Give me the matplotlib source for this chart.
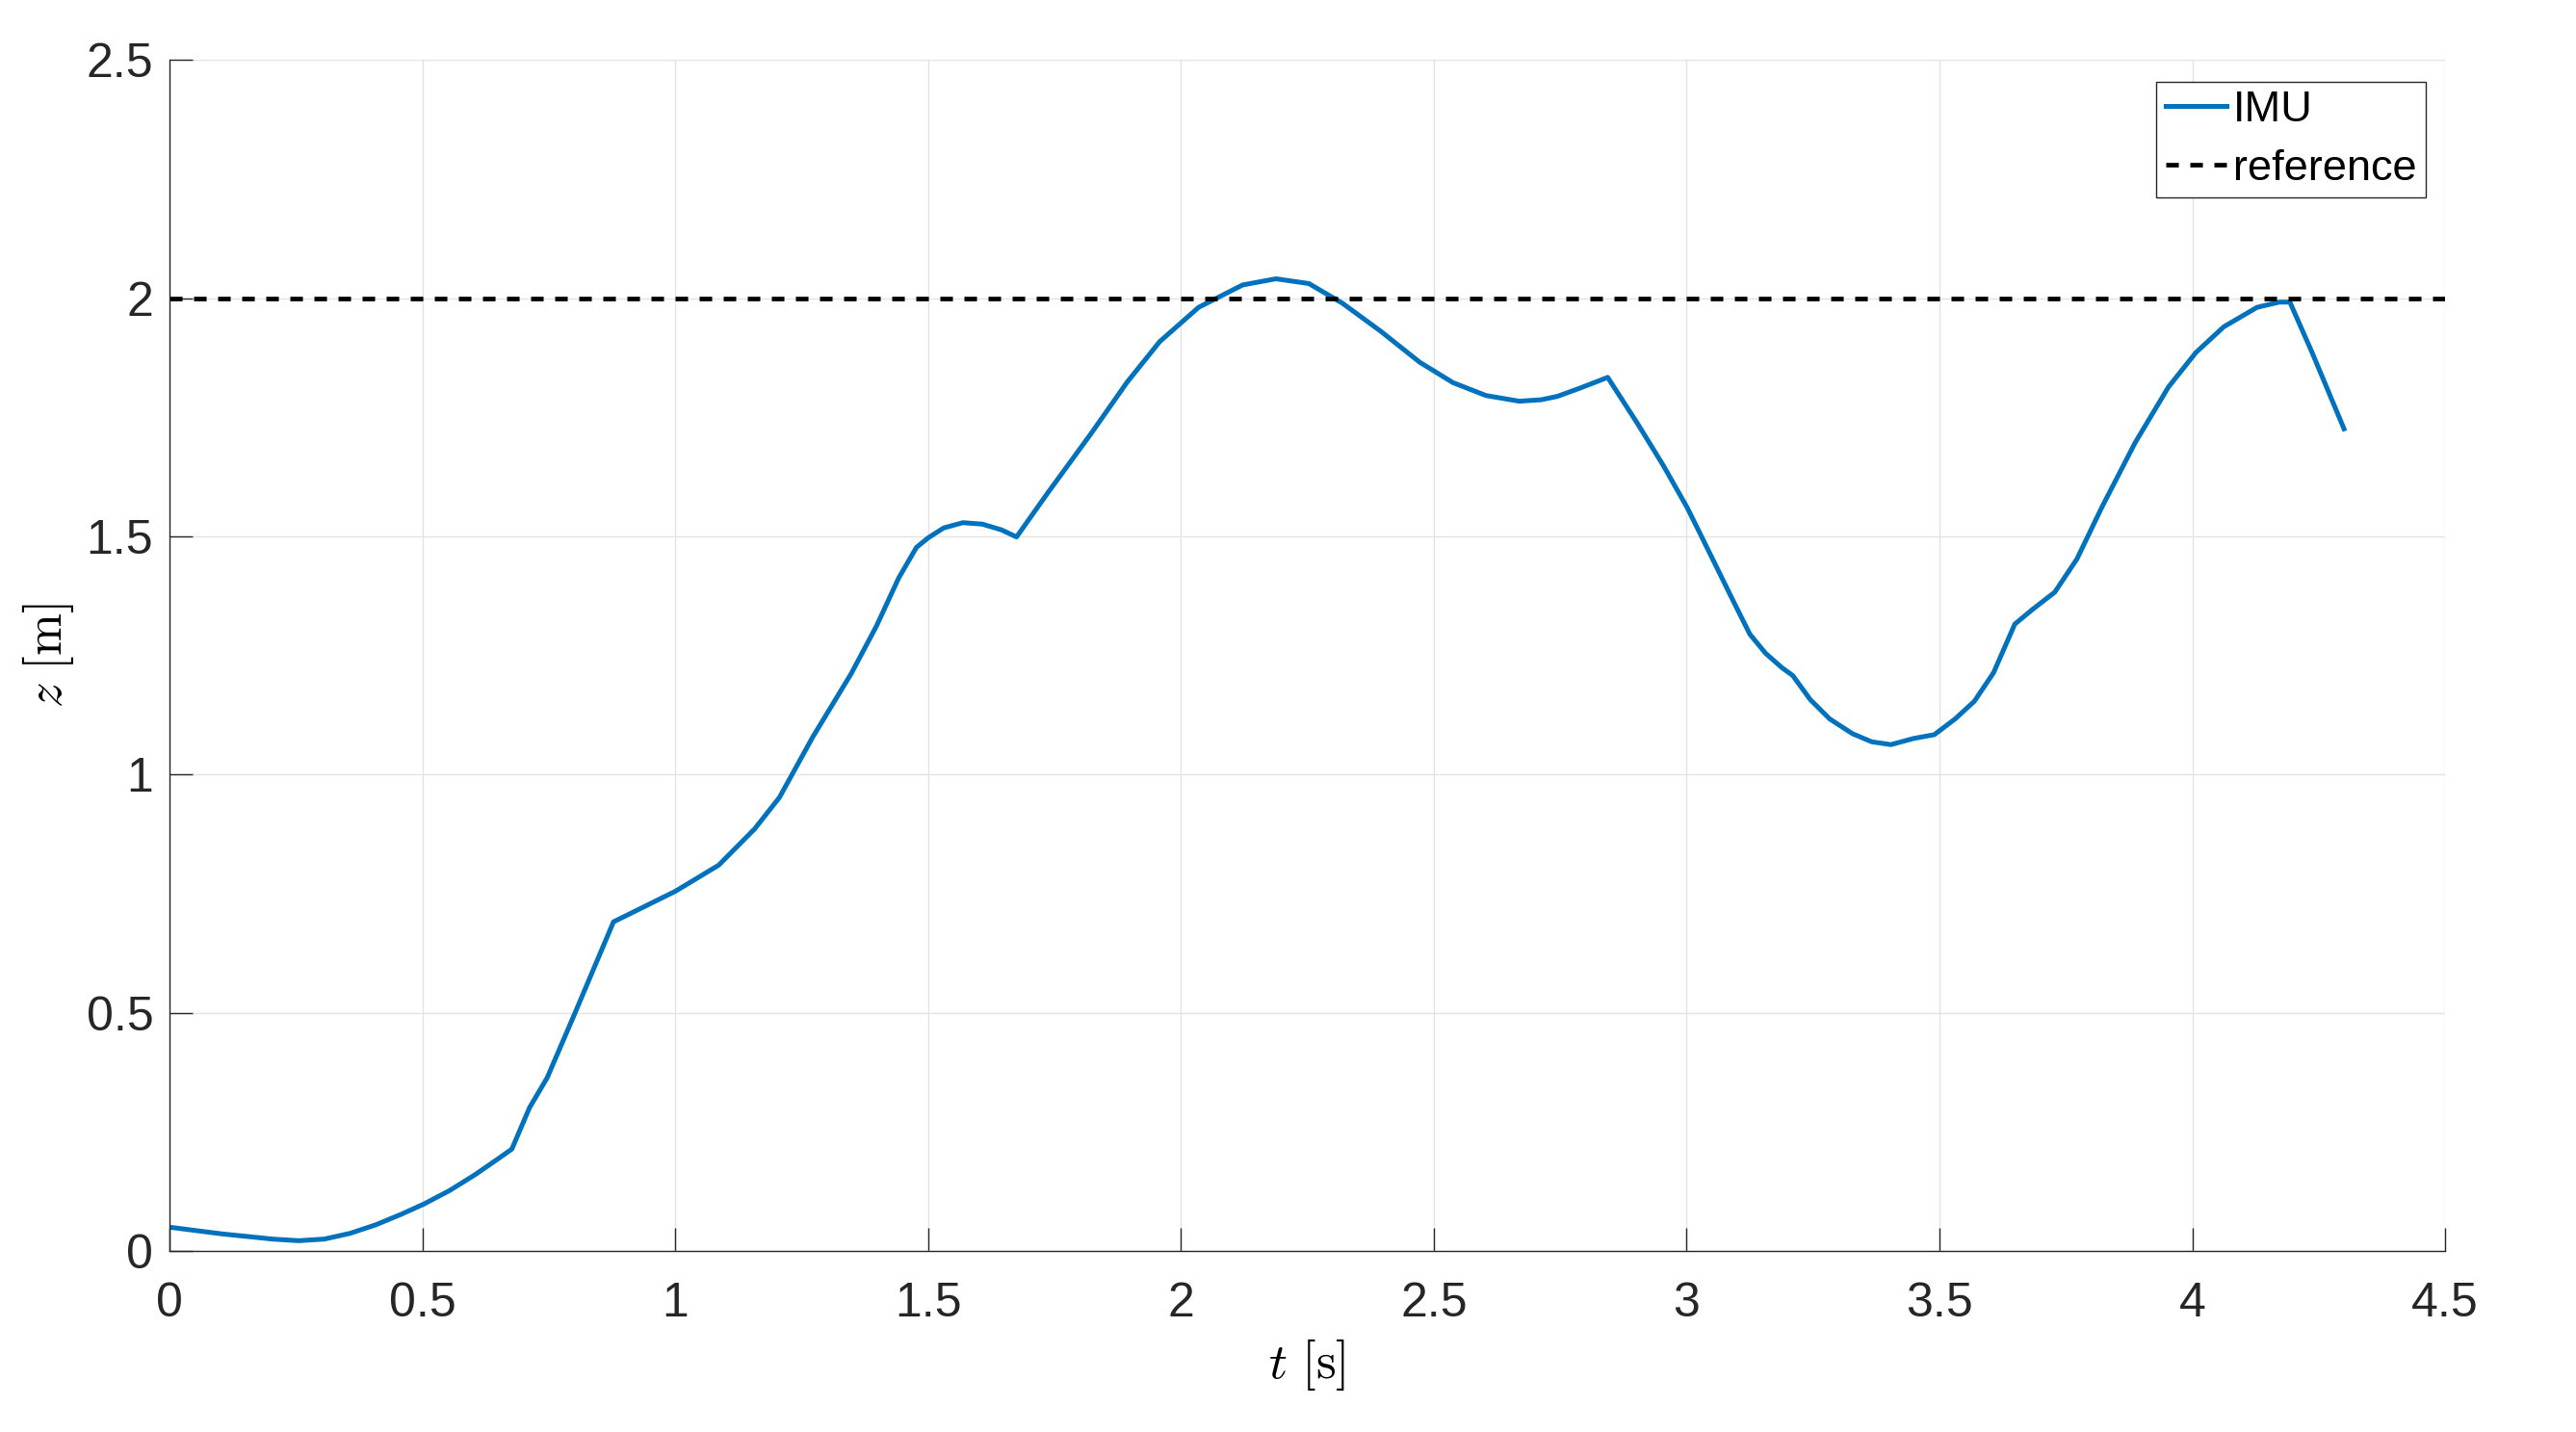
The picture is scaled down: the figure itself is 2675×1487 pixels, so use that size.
import numpy as np
import matplotlib
matplotlib.use("Agg")
import matplotlib.pyplot as plt

# IMU height estimate
t = np.array([0.0, 0.103, 0.204, 0.255, 0.306, 0.357, 0.408, 0.458, 0.502, 0.554,
              0.604, 0.649, 0.677, 0.712, 0.747, 0.802, 0.878, 1.0, 1.086, 1.157,
              1.206, 1.272, 1.348, 1.398, 1.442, 1.477, 1.5, 1.531, 1.569, 1.607,
              1.645, 1.675, 1.735, 1.823, 1.893, 1.958, 2.035, 2.122, 2.188, 2.253,
              2.319, 2.395, 2.472, 2.538, 2.603, 2.669, 2.712, 2.744, 2.788, 2.844,
              2.903, 2.954, 3.001, 3.023, 3.093, 3.125, 3.156, 3.188, 3.21, 3.245,
              3.283, 3.328, 3.366, 3.404, 3.449, 3.49, 3.531, 3.569, 3.607, 3.649,
              3.683, 3.728, 3.772, 3.821, 3.887, 3.953, 4.007, 4.062, 4.128, 4.172,
              4.193, 4.237, 4.3])
z = np.array([0.050, 0.036, 0.025, 0.0216, 0.025, 0.037, 0.055, 0.077, 0.098, 0.127,
              0.16, 0.193, 0.214, 0.301, 0.364, 0.50, 0.691, 0.755, 0.81, 0.886,
              0.952, 1.079, 1.212, 1.312, 1.413, 1.477, 1.497, 1.518, 1.529, 1.526,
              1.514, 1.499, 1.589, 1.717, 1.823, 1.909, 1.981, 2.028, 2.041, 2.031,
              1.99, 1.931, 1.866, 1.823, 1.796, 1.784, 1.787, 1.794, 1.811, 1.834,
              1.737, 1.649, 1.561, 1.514, 1.363, 1.295, 1.255, 1.225, 1.208, 1.157,
              1.117, 1.086, 1.069, 1.063, 1.076, 1.084, 1.117, 1.154, 1.214, 1.316,
              1.346, 1.383, 1.453, 1.561, 1.697, 1.814, 1.886, 1.94, 1.981, 1.992,
              1.992, 1.886, 1.726])
z_ref = 2.0

plt.rcParams['font.family'] = 'Liberation Sans'
plt.rcParams['mathtext.fontset'] = 'cm'
plt.rcParams['lines.scale_dashes'] = False

fig = plt.figure(figsize=(26.75, 14.87), dpi=100)
ax = fig.add_axes([0.0658, 0.1264, 0.8834, 0.8316])

ax.plot(t, z, color='#0072BD', lw=3.6, label='IMU')
ax.plot([0, 4.5], [z_ref, z_ref], color='k', lw=3.4, dashes=(9.4, 8.6), label='reference')

ax.set_xlim(0, 4.5)
ax.set_ylim(0, 2.5)
ax.set_xticks(np.arange(0, 4.51, 0.5))
ax.set_yticks(np.arange(0, 2.51, 0.5))
ax.set_xticklabels(['0', '0.5', '1', '1.5', '2', '2.5', '3', '3.5', '4', '4.5'])
ax.set_yticklabels(['0', '0.5', '1', '1.5', '2', '2.5'])
ax.grid(True, color='#e3e3e3', lw=1.0)
ax.set_axisbelow(True)
for s in ['top', 'right']:
    ax.spines[s].set_visible(False)
for s in ['left', 'bottom']:
    ax.spines[s].set_color('#262626')
    ax.spines[s].set_linewidth(1.0)
ax.tick_params(direction='in', length=17, width=1.0, color='#262626',
               labelcolor='#262626', labelsize=36)
ax.tick_params(axis='x', pad=23)
ax.tick_params(axis='y', pad=12)

ax.set_xlabel(r'$t\ [\mathrm{s}]$', fontsize=38)
ax.set_ylabel(r'$z\ [\mathrm{m}]$', fontsize=38)
ax.xaxis.set_label_coords(0.5, -0.072)
ax.yaxis.set_label_coords(-0.041, 0.5)

leg = ax.legend(loc='upper right', bbox_to_anchor=(0.9915, 0.982), fontsize=32.5,
                fancybox=False, framealpha=1, edgecolor='#262626',
                handlelength=1.4, handletextpad=0.17, labelspacing=0.45,
                borderpad=0.2, borderaxespad=0)
leg.get_frame().set_linewidth(1.0)

fig.savefig('out.png', dpi=100)
